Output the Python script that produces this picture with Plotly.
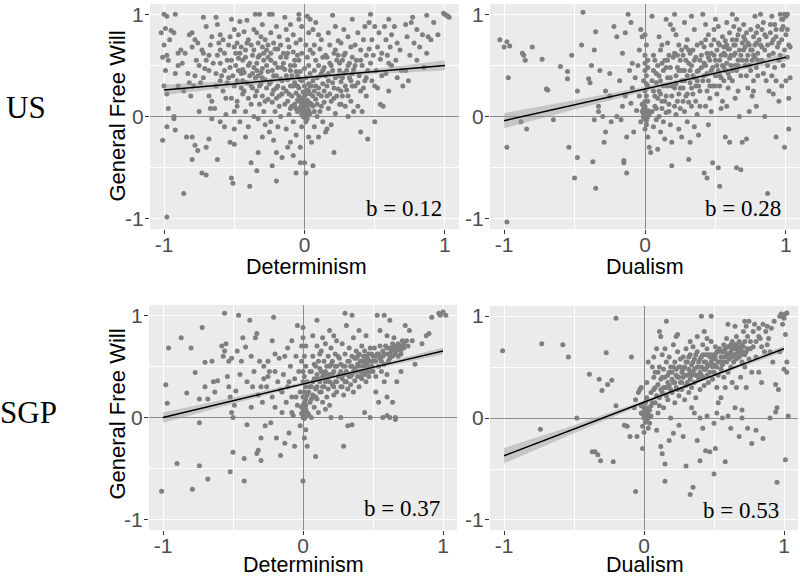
import plotly.graph_objects as go

# ---------------- data ----------------
us_det = [(-1.0,1.0),(-0.98,0.98),(-1.02,0.82),(-0.99,0.86),(-1.0,0.7),(-1.01,0.58),(-0.98,0.6),(-0.99,0.45),(-1.0,0.3),(-0.98,0.22),(-0.97,0.08),(-0.98,-0.1),(-1.01,-0.23),(-0.98,-0.98),(-0.96,0.75),(-0.97,0.55),
(-0.92,1.0),(-0.95,0.84),(-0.93,0.82),(-0.9,0.62),(-0.88,0.65),(-0.92,0.42),(-0.9,0.3),(-0.93,0.0),(-0.93,-0.02),(-0.92,-0.13),(-0.86,-0.75),(-0.87,0.52),(-0.86,0.25),
(-0.83,0.42),(-0.82,0.8),(-0.8,0.82),(-0.78,0.75),(-0.8,0.68),(-0.76,0.72),(-0.81,0.2),(-0.79,0.3),(-0.84,-0.2),(-0.8,-0.2),(-0.78,-0.28),(-0.76,-0.33),(-0.8,-0.42),(-0.77,0.55),(-0.75,0.05),(-0.82,0.33),
(-0.72,0.97),(-0.7,0.88),(-0.73,0.65),(-0.68,0.6),(-0.7,0.55),(-0.71,0.47),(-0.72,0.38),(-0.68,0.2),(-0.66,0.15),(-0.7,-0.3),(-0.68,-0.22),(-0.73,-0.55),(-0.7,-0.57),(-0.66,-0.02),(-0.67,0.08),(-0.74,0.33),(-0.66,0.78),(-0.67,0.7),
(-0.63,0.97),(-0.62,0.9),(-0.6,0.8),(-0.58,0.75),(-0.62,0.6),(-0.6,0.52),(-0.57,0.45),(-0.63,0.42),(-0.6,0.35),(-0.58,0.25),(-0.56,0.18),(-0.64,0.08),(-0.6,-0.05),(-0.57,-0.1),(-0.62,-0.42),(-0.6,0.65),(-0.55,0.55),(-0.56,0.02),
(-0.52,0.95),(-0.5,0.85),(-0.53,0.78),(-0.48,0.72),(-0.5,0.68),(-0.46,0.62),(-0.52,0.55),(-0.49,0.5),(-0.47,0.45),(-0.54,0.38),(-0.5,0.3),(-0.45,0.28),(-0.52,0.18),(-0.48,0.1),(-0.5,0.05),(-0.46,-0.05),(-0.5,-0.12),(-0.53,-0.25),(-0.5,-0.27),(-0.52,-0.6),(-0.51,-0.65),(-0.47,0.8),(-0.45,0.42),(-0.48,0.15),
(-0.46,0.93),(-0.41,0.94),(-0.43,0.83),(-0.4,0.75),(-0.38,0.7),(-0.42,0.65),(-0.37,0.6),(-0.44,0.55),(-0.4,0.5),(-0.36,0.48),(-0.43,0.43),(-0.39,0.4),(-0.41,0.33),(-0.37,0.28),(-0.44,0.22),(-0.4,0.18),(-0.38,0.12),(-0.42,0.05),(-0.36,0.0),(-0.4,-0.1),(-0.42,-0.2),(-0.38,-0.45),(-0.39,-0.68),(-0.36,0.85),(-0.44,0.35),(-0.35,0.38),
(-0.35,1.0),(-0.32,1.0),(-0.3,0.9),(-0.34,0.82),(-0.28,0.75),(-0.33,0.72),(-0.3,0.68),(-0.27,0.65),(-0.32,0.6),(-0.29,0.55),(-0.34,0.52),(-0.3,0.47),(-0.26,0.44),(-0.33,0.4),(-0.28,0.36),(-0.31,0.32),(-0.27,0.28),(-0.34,0.25),(-0.3,0.2),(-0.26,0.17),(-0.32,0.12),(-0.29,0.05),(-0.33,-0.02),(-0.28,-0.08),(-0.3,-0.2),(-0.33,-0.35),(-0.34,-0.53),(-0.25,-0.15),(-0.26,0.58),(-0.31,0.43),
(-0.25,1.0),(-0.23,1.0),(-0.2,0.88),(-0.24,0.82),(-0.18,0.78),(-0.22,0.72),(-0.19,0.66),(-0.24,0.62),(-0.17,0.58),(-0.21,0.52),(-0.16,0.48),(-0.23,0.45),(-0.2,0.4),(-0.17,0.37),(-0.24,0.34),(-0.19,0.3),(-0.22,0.26),(-0.16,0.22),(-0.2,0.18),(-0.23,0.14),(-0.18,0.1),(-0.21,0.05),(-0.17,0.0),(-0.24,-0.05),(-0.19,-0.1),(-0.22,-0.23),(-0.2,-0.35),(-0.16,-0.4),(-0.23,-0.48),(-0.2,-0.63),(-0.15,0.28),(-0.15,0.62),
(-0.14,0.97),(-0.1,0.9),(-0.13,0.85),(-0.08,0.8),(-0.12,0.75),(-0.06,0.72),(-0.11,0.68),(-0.08,0.63),(-0.13,0.58),(-0.07,0.55),(-0.1,0.5),(-0.14,0.46),(-0.06,0.44),(-0.09,0.4),(-0.12,0.36),(-0.07,0.33),(-0.1,0.3),(-0.13,0.25),(-0.06,0.23),(-0.09,0.2),(-0.12,0.15),(-0.07,0.12),(-0.1,0.08),(-0.05,0.05),(-0.11,0.02),(-0.08,-0.05),(-0.13,-0.12),(-0.06,-0.18),(-0.1,-0.25),(-0.12,-0.3),(-0.08,-0.38),(-0.06,-0.55),(-0.05,0.3),(-0.05,0.16),
(-0.04,1.0),(-0.04,0.95),(0.02,0.98),(0.04,0.95),(-0.02,0.88),(0.03,0.82),(-0.03,0.75),(0.01,0.7),(0.04,0.65),(-0.02,0.62),(0.02,0.58),(-0.04,0.55),(0.03,0.5),(0.0,0.47),(-0.03,0.44),(0.04,0.42),(0.01,0.38),(-0.02,0.35),(0.03,0.32),(0.0,0.3),(-0.04,0.28),(0.02,0.26),(-0.01,0.24),(0.04,0.22),(0.0,0.2),(-0.03,0.18),(0.02,0.16),(0.01,0.14),(-0.02,0.12),(0.03,0.11),(0.0,0.1),(-0.01,0.08),(0.02,0.07),(0.0,0.06),(0.01,0.05),(-0.01,0.04),(0.0,0.03),(0.02,0.02),(0.0,0.01),(-0.01,0.0),(0.01,0.0),(0.0,-0.01),(0.02,-0.02),(-0.02,0.02),(0.03,0.06),(-0.03,0.09),(0.04,0.13),(-0.04,0.15),(0.01,-0.05),(-0.02,-0.1),(0.03,-0.2),(-0.03,-0.3),(0.0,-0.45),(-0.03,-0.45),(0.01,-0.55),(0.05,-0.25),(0.05,0.3),(-0.05,0.4),
(0.08,0.92),(0.06,0.85),(0.1,0.8),(0.12,0.75),(0.07,0.7),(0.11,0.66),(0.06,0.62),(0.13,0.58),(0.08,0.55),(0.1,0.5),(0.14,0.48),(0.07,0.45),(0.12,0.42),(0.09,0.38),(0.06,0.35),(0.13,0.32),(0.1,0.28),(0.07,0.25),(0.12,0.2),(0.08,0.17),(0.14,0.14),(0.06,0.1),(0.11,0.05),(0.09,0.0),(0.13,-0.05),(0.07,-0.1),(0.1,-0.2),(0.06,-0.48),(0.15,-0.15),(0.15,0.4),
(0.2,0.99),(0.22,0.88),(0.17,0.82),(0.24,0.74),(0.18,0.7),(0.21,0.62),(0.16,0.58),(0.23,0.55),(0.19,0.5),(0.25,0.45),(0.17,0.42),(0.22,0.38),(0.2,0.33),(0.16,0.3),(0.24,0.27),(0.18,0.22),(0.21,0.18),(0.25,0.12),(0.17,0.08),(0.22,0.03),(0.19,-0.08),(0.21,-0.35),(0.16,-0.12),(0.24,0.6),
(0.28,0.85),(0.31,0.78),(0.26,0.72),(0.33,0.68),(0.29,0.62),(0.34,0.58),(0.27,0.55),(0.31,0.5),(0.35,0.46),(0.28,0.42),(0.32,0.38),(0.26,0.34),(0.34,0.3),(0.3,0.26),(0.27,0.2),(0.33,0.15),(0.29,0.1),(0.35,0.05),(0.31,0.0),(0.34,0.95),(0.26,0.12),
(0.38,0.82),(0.42,0.75),(0.36,0.7),(0.4,0.65),(0.44,0.6),(0.37,0.55),(0.41,0.5),(0.45,0.45),(0.39,0.4),(0.43,0.35),(0.36,0.3),(0.4,0.25),(0.44,0.2),(0.38,0.1),(0.41,0.05),(0.45,-0.22),(0.4,-0.15),(0.43,0.88),
(0.47,1.0),(0.46,0.92),(0.5,0.88),(0.53,0.82),(0.48,0.75),(0.52,0.68),(0.49,0.6),(0.54,0.56),(0.47,0.52),(0.51,0.45),(0.55,0.4),(0.48,0.35),(0.52,0.28),(0.5,-0.05),(0.54,0.12),
(0.6,0.95),(0.57,0.88),(0.64,0.88),(0.62,0.8),(0.58,0.75),(0.66,0.72),(0.61,0.68),(0.68,0.65),(0.59,0.6),(0.65,0.55),(0.62,0.5),(0.69,0.45),(0.58,0.42),(0.66,0.38),(0.7,0.3),(0.6,0.25),(0.56,0.1),
(0.72,0.9),(0.76,0.92),(0.77,0.97),(0.8,0.85),(0.84,0.8),(0.73,0.78),(0.78,0.72),(0.82,0.68),(0.87,0.62),(0.75,0.6),(0.8,0.55),(0.85,0.48),(0.72,0.45),(0.88,0.78),(0.9,0.75),(0.74,0.35),(0.87,0.99),
(1.0,1.0),(1.01,0.99),(1.02,0.98),(0.99,1.01),(1.03,0.97),(0.95,0.8),(0.92,0.92),
(-0.68,0.45),(-0.65,0.52),(-0.63,0.3),(-0.61,0.72),(-0.59,0.4),(-0.57,0.62),(-0.55,0.33),(-0.54,0.7),(-0.53,0.48),(-0.51,0.4),(-0.49,0.62),(-0.48,0.35),(-0.47,0.57),(-0.45,0.68),(-0.44,0.46),(-0.43,0.25),(-0.42,0.58),(-0.41,0.72),(-0.39,0.52),(-0.38,0.3),(-0.37,0.42),(-0.36,0.65),(-0.35,0.2),(-0.34,0.45),(-0.33,0.58),(-0.32,0.3),(-0.31,0.78),(-0.3,0.38),(-0.29,0.62),(-0.28,0.15),(-0.27,0.5),(-0.26,0.7),(-0.25,0.32),(-0.24,0.55),(-0.23,0.22),(-0.22,0.4),(-0.21,0.66),(-0.2,0.28),(-0.19,0.48),(-0.18,0.2),(-0.17,0.7),(-0.16,0.35),(-0.15,0.52),(-0.14,0.12),(-0.13,0.4),(-0.12,0.62),(-0.11,0.22),(-0.1,0.45),(-0.09,0.1),(-0.08,0.3),(-0.07,0.5),(-0.06,0.08),(-0.05,0.6),(-0.04,0.2),(-0.03,0.36),(-0.02,0.06),(-0.01,0.16),(0.0,0.08),(0.01,0.22),(0.02,0.04),(0.03,0.14),(0.04,0.03),(0.0,0.15),(-0.01,0.12),(0.01,0.1),(0.02,0.12),(0.03,0.25),(0.04,0.3),(0.05,0.12),(0.06,0.2),(0.07,0.05),(0.08,0.3),(0.09,0.12),(0.1,0.22),(0.11,0.4),(0.12,0.1),(0.13,0.45),(0.14,0.25),(0.15,0.6),(0.16,0.2),(0.17,0.35),(0.18,0.52),(0.19,0.15),(0.2,0.45),(0.21,0.28),(0.22,0.65),(0.23,0.2),(0.24,0.4),(0.25,0.52),(0.26,0.25),(0.27,0.38),(0.28,0.6),(0.29,0.3),(0.3,0.45),(0.31,0.2),(0.32,0.52),(0.33,0.35),(0.34,0.42),(0.36,0.5),(0.38,0.33),(0.4,0.55),(0.42,0.28),(0.44,0.38),(0.46,0.66),(0.5,0.3),(0.55,0.62),(0.6,0.52),(-0.75,0.5),(-0.72,0.62),(-0.78,0.4),(-0.85,0.62),(-0.9,0.5)]

us_dual = [(-1.03,0.75),(-0.98,0.73),(-1.0,0.68),(-0.96,0.69),(-0.97,0.38),(-0.98,-0.3),(-0.98,-1.03),(-0.87,0.62),(-0.86,0.6),(-0.85,0.55),(-0.88,-0.05),(-0.84,-0.12),(-0.8,0.68),(-0.73,0.56),(-0.7,0.27),(-0.69,0.26),(-0.65,-0.03),(-0.6,0.49),(-0.55,0.44),(-0.55,0.37),(-0.54,-0.3),(-0.52,0.6),(-0.5,-0.6),(-0.48,0.25),(-0.48,-0.4),(-0.45,0.7),(-0.44,1.02),(-0.4,0.37),(-0.39,0.33),(-0.38,0.5),(-0.36,0.65),(-0.36,-0.03),(-0.37,-0.44),(-0.35,0.83),(-0.35,-0.7),(-0.33,0.1),(-0.33,0.05),(-0.32,0.45),(-0.3,0.0),(-0.29,-0.25),(-0.28,-0.15),(-0.28,0.25),(-0.25,0.2),(-0.25,0.42),(-0.24,-0.05),(-0.22,0.88),(-0.2,0.78),(-0.2,0.0),(-0.18,0.35),(-0.17,-0.03),(-0.16,0.1),(-0.16,0.62),(-0.15,-0.43),(-0.15,-0.45),(-0.14,0.82),(-0.14,0.2),(-0.13,-0.2),(-0.13,-0.55),(-0.12,1.0),(-0.11,0.45),(-0.1,0.92),(-0.09,0.52),(-0.1,0.13),(-0.09,0.28),(-0.08,-0.15),(-0.07,0.38),(-0.06,0.06),(-0.05,0.5),(-0.04,0.65),(-0.04,0.2),(-0.03,0.85),(-0.03,-0.05),(-0.02,0.12),(-0.02,0.78),
(0.0,0.0),(0.01,0.01),(-0.01,0.02),(0.02,0.0),(0.0,-0.02),(0.01,0.04),(-0.01,-0.01),(0.02,0.03),(0.0,0.06),(0.01,-0.04),(0.03,0.02),(-0.02,0.05),(0.0,0.1),(0.02,0.15),(0.01,0.2),(0.0,0.25),(0.02,0.3),(-0.01,0.35),(0.01,0.4),(0.0,0.45),(0.02,0.55),(0.0,0.6),(0.01,0.7),(0.0,0.8),(0.01,-0.08),(0.0,-0.12),(0.02,-0.2),(0.03,-0.3),(0.04,-0.35),
(0.05,0.98),(0.07,0.55),(0.06,0.45),(0.08,0.33),(0.06,0.25),(0.09,0.18),(0.07,0.1),(0.05,0.05),(0.08,-0.03),(0.06,-0.1),(0.09,-0.32),(0.1,0.78),(0.11,0.65),(0.12,0.52),(0.1,0.4),(0.13,0.3),(0.11,0.22),(0.14,0.15),(0.12,0.08),(0.1,0.0),(0.13,-0.05),(0.11,-0.15),(0.14,-0.22),(0.15,0.95),(0.16,0.72),(0.17,0.6),(0.15,0.48),(0.18,0.38),(0.16,0.3),(0.19,0.2),(0.17,0.12),(0.15,0.04),(0.18,-0.08),(0.19,-0.25),(0.2,0.85),(0.18,0.9),(0.19,-0.48),(0.16,0.55),(0.12,0.7),(0.08,0.42),
(0.21,1.0),(0.22,0.8),(0.24,0.7),(0.21,0.62),(0.25,0.55),(0.23,0.48),(0.22,0.4),(0.26,0.35),(0.21,0.28),(0.24,0.22),(0.23,0.15),(0.25,0.08),(0.22,0.02),(0.24,-0.12),(0.26,-0.2),(0.28,0.92),(0.3,0.75),(0.29,0.68),(0.27,0.6),(0.31,0.52),(0.28,0.45),(0.3,0.4),(0.32,0.33),(0.27,0.28),(0.29,0.2),(0.31,0.14),(0.28,0.05),(0.3,-0.05),(0.32,-0.25),(0.31,-0.42),(0.33,0.98),(0.35,0.85),(0.34,0.65),(0.36,0.58),(0.33,0.5),(0.37,0.44),(0.35,0.38),(0.38,0.3),(0.34,0.22),(0.36,0.15),(0.39,0.1),(0.37,0.02),(0.35,-0.1),(0.38,-0.18),(0.4,0.72),(0.39,0.55),(0.4,0.48),(0.32,0.62),(0.26,0.45),(0.37,0.35),(0.33,0.28),
(0.41,1.0),(0.43,0.9),(0.45,0.8),(0.42,0.68),(0.44,0.62),(0.46,0.55),(0.43,0.5),(0.47,0.45),(0.42,0.4),(0.45,0.35),(0.48,0.3),(0.44,0.25),(0.46,0.18),(0.43,0.1),(0.47,0.05),(0.45,-0.08),(0.42,-0.55),(0.44,-0.6),(0.48,-0.45),(0.5,0.95),(0.52,0.88),(0.49,0.75),(0.53,0.7),(0.51,0.65),(0.54,0.6),(0.5,0.55),(0.55,0.5),(0.52,0.45),(0.5,0.4),(0.56,0.35),(0.53,0.3),(0.51,0.22),(0.55,0.15),(0.54,0.08),(0.57,-0.2),(0.52,-0.5),(0.53,-0.68),(0.58,0.92),(0.6,0.82),(0.57,0.74),(0.59,0.66),(0.56,0.62),(0.6,0.57),(0.58,0.52),(0.57,0.45),(0.6,0.38),(0.59,0.28),(0.58,0.1),(0.6,-0.25),(0.49,0.6),(0.47,0.7),(0.53,0.4),(0.56,0.68),
(0.62,1.0),(0.65,0.95),(0.63,0.88),(0.66,0.8),(0.62,0.75),(0.64,0.7),(0.67,0.65),(0.63,0.6),(0.66,0.55),(0.61,0.5),(0.65,0.45),(0.68,0.4),(0.62,0.35),(0.66,0.25),(0.64,0.18),(0.67,0.0),(0.65,-0.5),(0.68,-0.52),(0.69,-0.25),(0.7,0.9),(0.72,0.82),(0.71,0.75),(0.74,0.7),(0.7,0.65),(0.73,0.6),(0.76,0.55),(0.71,0.5),(0.75,0.45),(0.72,0.4),(0.77,0.35),(0.73,0.28),(0.76,0.2),(0.74,0.05),(0.72,-0.22),(0.78,0.98),(0.8,0.88),(0.77,0.78),(0.79,0.72),(0.8,0.62),(0.78,0.58),(0.79,0.48),(0.8,0.4),(0.77,0.25),(0.79,0.1),(0.69,0.72),(0.64,0.5),(0.75,0.65),
(0.82,1.0),(0.84,0.92),(0.83,0.85),(0.86,0.78),(0.82,0.7),(0.85,0.65),(0.88,0.6),(0.83,0.55),(0.87,0.5),(0.84,0.42),(0.86,0.35),(0.88,0.25),(0.85,0.0),(0.87,-0.75),(0.9,0.98),(0.92,0.9),(0.89,0.82),(0.93,0.78),(0.9,0.72),(0.94,0.68),(0.91,0.62),(0.95,0.55),(0.92,0.48),(0.9,0.4),(0.93,0.35),(0.91,0.22),(0.95,0.15),(0.93,-0.2),(0.96,1.0),(0.97,0.95),(0.99,1.0),(1.0,0.98),(1.01,1.0),(0.98,0.88),(1.0,0.8),(0.97,0.75),(1.02,0.7),(0.99,0.65),(1.01,0.58),(0.98,0.5),(1.0,0.35),(1.03,0.38),(1.02,0.18),(0.99,-0.3),(1.02,-0.12),(0.96,0.6),(0.97,0.3),(1.03,0.68),(1.01,0.85),
(0.05,0.35),(0.06,0.6),(0.07,0.2),(0.08,0.08),(0.09,0.5),(0.1,0.25),(0.11,0.35),(0.12,0.15),(0.13,0.45),(0.14,0.55),(0.15,0.2),(0.16,0.38),(0.17,0.05),(0.18,0.48),(0.19,0.3),(0.2,0.58),(0.21,0.1),(0.22,0.32),(0.23,0.6),(0.24,0.45),(0.25,0.28),(0.26,0.65),(0.27,0.15),(0.28,0.35),(0.29,0.55),(0.3,0.22),(0.31,0.65),(0.32,0.45),(0.33,0.1),(0.34,0.4),(0.35,0.55),(0.36,0.3),(0.37,0.7),(0.38,0.45),(0.39,0.25),(0.4,0.6),(0.41,0.35),(0.42,0.52),(0.43,0.75),(0.44,0.42),(0.45,0.58),(0.46,0.3),(0.47,0.62),(0.48,0.48),(0.49,0.85),(0.5,0.3),(0.51,0.5),(0.52,0.72),(0.53,0.55),(0.54,0.38),(0.55,0.78),(0.56,0.48),(0.57,0.6),(0.58,0.7),(0.59,0.42),(0.6,0.66),(0.61,0.6),(0.62,0.45),(0.63,0.7),(0.64,0.62),(0.65,0.75),(0.66,0.5),(0.67,0.85),(0.68,0.6),(0.69,0.55),(0.7,0.78),(0.71,0.68),(0.72,0.55),(0.73,0.72),(0.74,0.5),(0.75,0.85),(0.76,0.65),(0.77,0.6),(0.78,0.7),(0.79,0.82),(0.8,0.55),(0.81,0.75),(0.83,0.68),(0.85,0.8),(0.87,0.7),(0.89,0.9),(0.91,0.75),(0.93,0.85),(0.95,0.72),(0.97,0.85),(0.98,0.95),(0.0,0.03),(0.01,-0.02),(0.02,0.06),(-0.01,0.08),(0.0,0.15),(0.01,0.32),(0.02,0.48),(0.0,0.52)]

sgp_det = [(-1.01,-0.72),(-0.98,0.32),(-0.97,0.14),(-0.96,0.68),(-0.9,-0.45),(-0.87,0.78),(-0.83,0.24),(-0.8,0.68),(-0.79,-0.7),(-0.77,0.44),(-0.74,0.18),(-0.74,-0.47),(-0.74,-0.05),(-0.72,0.88),(-0.7,0.3),(-0.7,0.54),(-0.68,-0.6),(-0.68,0.18),(-0.65,0.55),(-0.64,0.35),(-0.63,0.25),(-0.61,0.36),(-0.58,0.7),(-0.57,0.6),(-0.55,0.72),(-0.56,0.65),(-0.54,0.4),(-0.53,0.3),(-0.52,0.2),(-0.51,0.05),(-0.5,0.0),(-0.56,1.02),(-0.53,0.55),(-0.51,0.58),(-0.52,-0.53),(-0.5,-0.34),(-0.49,0.12),(-0.48,0.26),(-0.47,0.65),(-0.45,0.42),(-0.46,1.0),(-0.44,0.55),(-0.43,0.78),(-0.42,-0.62),(-0.42,-0.4),(-0.41,0.69),(-0.4,0.35),(-0.4,-0.07),(-0.38,0.95),(-0.37,0.1),(-0.37,0.6),(-0.36,0.3),(-0.35,0.45),(-0.34,0.78),(-0.33,0.82),(-0.33,-0.35),(-0.32,-0.32),(-0.32,0.22),(-0.31,0.55),(-0.3,-0.2),(-0.3,-0.42),(-0.29,0.15),(-0.28,0.5),(-0.28,0.38),(-0.27,-0.08),(-0.26,0.3),(-0.25,0.55),(-0.24,0.45),(-0.23,-0.05),(-0.22,0.75),(-0.22,0.2),(-0.21,0.98),(-0.2,0.62),(-0.2,0.1),(-0.19,-0.2),(-0.18,0.35),(-0.17,0.58),(-0.16,-0.37),(-0.16,0.27),(-0.15,0.05),(-0.14,0.42),(-0.13,0.6),(-0.13,-0.25),(-0.12,0.15),(-0.11,0.68),(-0.11,0.3),(-0.1,-0.15),(-0.09,0.5),(-0.08,0.75),(-0.08,0.2),(-0.07,0.02),(-0.06,0.38),(-0.06,-0.28),(-0.05,0.6),(-0.04,0.9),(-0.04,0.12),(-0.03,0.45),(-0.02,0.25),(-0.02,-0.08),(-0.01,0.7),(-0.01,0.55),
(0.0,0.0),(0.01,0.02),(-0.01,0.04),(0.02,0.01),(0.0,0.06),(0.01,-0.01),(0.02,0.08),(-0.01,0.1),(0.0,0.12),(0.01,0.15),(0.02,0.18),(0.0,0.2),(0.01,0.25),(0.02,0.3),(0.0,0.35),(0.01,0.4),(0.02,0.5),(0.0,0.88),(0.0,-0.62),(0.02,-0.12),(0.03,-0.28),(0.01,-0.2),(0.03,0.05),(0.04,0.03),(0.03,0.22),
(0.05,0.3),(0.06,0.45),(0.05,0.15),(0.07,0.6),(0.06,0.0),(0.08,0.38),(0.07,0.22),(0.09,0.5),(0.08,0.1),(0.1,0.7),(0.09,0.28),(0.1,0.42),(0.11,0.55),(0.1,0.18),(0.12,0.35),(0.11,0.05),(0.13,0.65),(0.12,0.48),(0.13,0.25),(0.14,0.4),(0.14,0.15),(0.15,0.55),(0.15,0.3),(0.16,0.72),(0.16,0.45),(0.17,0.2),(0.17,0.38),(0.18,0.6),(0.18,0.28),(0.19,0.5),(0.19,0.12),(0.2,0.42),(0.2,0.68),(0.21,0.32),(0.21,0.55),(0.22,0.22),(0.22,0.45),(0.23,0.35),(0.23,0.62),(0.24,0.5),(0.24,0.25),(0.25,0.4),(0.09,-0.38),(0.1,0.95),(0.14,0.78),(0.19,0.85),(0.22,0.8),(0.24,0.75),(0.07,0.8),(0.12,0.62),(0.16,0.08),(0.2,0.0),(0.06,0.3),
(0.26,0.58),(0.27,0.3),(0.27,0.45),(0.28,0.72),(0.28,0.38),(0.29,0.5),(0.29,0.22),(0.3,0.62),(0.3,0.35),(0.31,0.45),(0.31,0.9),(0.32,0.28),(0.32,0.55),(0.33,0.4),(0.33,0.68),(0.34,0.5),(0.34,0.32),(0.35,0.6),(0.35,0.42),(0.36,0.25),(0.36,0.78),(0.37,0.48),(0.37,0.36),(0.38,0.58),(0.38,0.65),(0.39,0.4),(0.39,0.52),(0.4,0.3),(0.4,0.62),(0.41,0.45),(0.41,0.55),(0.42,0.38),(0.42,0.7),(0.43,0.5),(0.43,0.6),(0.44,0.42),(0.44,0.65),(0.45,0.35),(0.45,0.52),(0.46,0.58),(0.46,0.45),(0.47,0.62),(0.47,0.4),(0.48,0.55),(0.48,0.68),(0.49,0.5),(0.5,0.6),(0.5,0.45),(0.29,-0.28),(0.32,-0.08),(0.35,-0.07),(0.3,1.02),(0.35,1.0),(0.4,0.85),(0.45,0.8),(0.48,0.0),(0.27,0.0),(0.44,0.05),
(0.51,0.68),(0.52,0.55),(0.52,0.4),(0.53,0.62),(0.54,0.5),(0.55,0.7),(0.55,0.58),(0.56,0.45),(0.57,0.65),(0.57,0.6),(0.58,0.52),(0.59,0.7),(0.6,0.62),(0.6,0.42),(0.61,0.55),(0.62,0.68),(0.62,0.58),(0.63,0.65),(0.64,0.6),(0.64,0.72),(0.65,0.68),(0.66,0.62),(0.66,0.7),(0.67,0.66),(0.68,0.72),(0.68,0.6),(0.69,0.68),(0.7,0.7),(0.7,0.62),(0.71,0.75),(0.72,0.68),(0.74,0.75),(0.75,0.7),(0.73,0.9),(0.76,0.85),(0.6,0.2),(0.58,0.35),(0.57,0.0),(0.6,0.02),(0.62,0.0),(0.66,0.0),(0.53,1.0),(0.58,1.0),(0.62,0.95),(0.55,0.85),(0.6,0.8),(0.65,0.78),(0.52,0.25),(0.54,0.15),(0.64,0.15),(0.67,0.35),(0.7,0.45),(0.78,0.75),(0.8,0.52),(0.66,-0.02),
(0.97,1.02),(1.0,1.03),(1.02,1.0),(0.98,1.0),(0.92,0.98),(0.9,0.82),(0.85,0.72),(0.88,0.8),
(0.02,0.12),(0.03,0.35),(0.04,0.25),(0.05,0.45),(0.06,0.18),(0.07,0.35),(0.08,0.52),(0.09,0.2),(0.1,0.3),(0.11,0.38),(0.12,0.25),(0.13,0.45),(0.14,0.3),(0.15,0.42),(0.16,0.35),(0.17,0.5),(0.18,0.42),(0.19,0.35),(0.2,0.52),(0.21,0.42),(0.22,0.3),(0.23,0.5),(0.24,0.35),(0.25,0.6),(0.26,0.42),(0.27,0.52),(0.28,0.3),(0.29,0.42),(0.3,0.5),(0.31,0.35),(0.32,0.42),(0.33,0.55),(0.34,0.4),(0.35,0.5),(0.36,0.45),(0.37,0.58),(0.38,0.45),(0.39,0.6),(0.4,0.5),(0.41,0.4),(0.42,0.55),(0.43,0.45),(0.44,0.55),(0.45,0.6),(0.46,0.5),(0.47,0.55),(0.48,0.45),(0.49,0.62),(0.5,0.55),(0.52,0.6),(0.54,0.62),(0.56,0.55),(0.58,0.62),(0.6,0.68),(0.62,0.62),(0.64,0.66),(0.66,0.66),(0.68,0.66),(0.7,0.66),(0.72,0.72),(-0.1,0.35),(-0.15,0.25),(-0.2,0.45),(-0.25,0.4),(-0.3,0.3),(-0.08,0.05),(-0.05,0.2),(0.0,0.45),(0.01,0.6),(0.02,0.7),(0.0,0.78)]

sgp_dual = [(-1.01,0.66),(-0.73,0.73),(-0.74,-0.11),(-0.58,0.72),(-0.54,0.6),(-0.48,0.0),(-0.39,0.43),(-0.37,-0.33),(-0.35,-0.33),(-0.33,-0.36),(-0.32,0.38),(-0.3,0.27),(-0.31,-0.42),(-0.27,0.64),(-0.26,0.33),(-0.23,0.37),(-0.22,-0.43),(-0.2,0.98),(-0.2,0.12),(-0.14,-0.07),(-0.12,-0.08),(-0.09,0.6),(-0.1,-0.18),(-0.07,0.1),(-0.06,0.18),(-0.05,-0.18),(-0.04,0.25),(-0.06,-0.72),(-0.03,0.28),(-0.02,0.3),(-0.02,0.12),(-0.01,-0.3),(-0.02,0.05),
(0.0,0.0),(0.01,0.02),(-0.01,0.04),(0.02,-0.02),(0.0,0.06),(0.01,-0.04),(0.02,0.05),(0.03,0.0),(0.0,0.1),(0.01,0.15),(0.02,0.2),(-0.01,-0.08),(0.03,-0.1),(0.0,-0.14),(0.02,0.35),(0.03,0.55),(0.04,0.08),(0.04,-0.05),(0.05,0.02),(0.05,0.12),(0.06,0.5),
(0.07,0.28),(0.08,0.45),(0.08,0.15),(0.09,-0.12),(0.1,0.33),(0.1,0.05),(0.11,0.5),(0.11,0.2),(0.12,0.38),(0.12,-0.28),(0.13,0.62),(0.13,0.25),(0.14,0.48),(0.14,0.1),(0.15,0.4),(0.15,0.68),(0.15,-0.45),(0.16,0.3),(0.16,0.55),(0.17,0.18),(0.17,0.42),(0.18,0.6),(0.18,0.32),(0.19,0.5),(0.19,0.0),(0.2,0.25),(0.2,0.45),(0.21,0.72),(0.21,0.35),(0.22,0.15),(0.22,0.55),(0.23,0.3),(0.23,0.48),(0.24,0.4),(0.24,0.65),(0.25,0.22),(0.25,0.5),(0.26,0.35),(0.26,0.58),(0.27,0.28),(0.27,0.45),(0.28,0.6),(0.28,0.4),(0.29,0.18),(0.29,0.5),(0.3,0.32),(0.3,0.68),(0.11,0.85),(0.12,0.8),(0.16,0.95),(0.23,0.8),(0.24,0.82),(0.15,-0.62),(0.13,-0.35),(0.18,-0.22),(0.21,-0.15),(0.25,-0.07),(0.28,-0.18),(0.3,-0.47),(0.09,0.68),(0.07,0.6),
(0.31,0.42),(0.31,0.55),(0.32,0.25),(0.32,0.48),(0.33,0.38),(0.33,0.62),(0.34,0.3),(0.34,0.52),(0.35,0.45),(0.35,0.7),(0.36,0.35),(0.36,0.58),(0.37,0.42),(0.37,0.2),(0.38,0.5),(0.38,0.65),(0.39,0.38),(0.39,0.55),(0.4,0.45),(0.4,0.28),(0.41,0.6),(0.41,0.5),(0.42,0.4),(0.42,0.72),(0.43,0.55),(0.43,0.32),(0.44,0.48),(0.44,0.62),(0.45,0.42),(0.45,0.68),(0.46,0.52),(0.46,0.35),(0.47,0.6),(0.47,0.45),(0.48,0.55),(0.48,0.75),(0.49,0.5),(0.49,0.38),(0.5,0.62),(0.5,0.45),(0.51,0.58),(0.51,0.7),(0.52,0.5),(0.52,0.3),(0.53,0.65),(0.53,0.42),(0.54,0.55),(0.55,0.6),(0.55,0.48),(0.34,0.1),(0.36,0.05),(0.4,0.0),(0.42,-0.1),(0.45,0.02),(0.5,-0.05),(0.52,0.05),(0.38,-0.22),(0.4,-0.42),(0.44,-0.32),(0.47,-0.33),(0.5,-0.55),(0.51,-0.3),(0.33,-0.75),(0.35,-0.68),(0.41,1.0),(0.48,1.0),(0.43,0.85),(0.45,0.78),(0.38,0.8),(0.33,0.75),(0.55,0.2),(0.53,0.15),
(0.56,0.65),(0.56,0.52),(0.57,0.72),(0.57,0.4),(0.58,0.6),(0.58,0.68),(0.59,0.55),(0.59,0.78),(0.6,0.62),(0.6,0.45),(0.61,0.7),(0.61,0.58),(0.62,0.65),(0.62,0.5),(0.63,0.75),(0.63,0.6),(0.64,0.68),(0.64,0.55),(0.65,0.72),(0.65,0.62),(0.66,0.8),(0.66,0.58),(0.67,0.7),(0.67,0.65),(0.68,0.75),(0.68,0.6),(0.69,0.68),(0.7,0.72),(0.7,0.55),(0.71,0.85),(0.72,0.62),(0.72,0.5),(0.73,0.9),(0.74,0.68),(0.75,0.58),(0.76,0.75),(0.77,0.45),(0.78,0.85),(0.79,0.92),(0.8,0.6),(0.56,0.0),(0.58,-0.43),(0.6,0.02),(0.62,-0.1),(0.65,0.1),(0.68,-0.18),(0.7,0.0),(0.7,0.08),(0.66,0.3),(0.74,-0.1),(0.77,-0.25),(0.75,0.95),(0.72,0.95),(0.6,0.92),(0.65,0.9),(0.58,0.3),(0.63,0.35),(0.69,0.4),(0.73,0.3),
(0.82,0.88),(0.83,0.78),(0.84,0.7),(0.85,0.92),(0.86,0.65),(0.87,0.85),(0.88,0.9),(0.88,0.72),(0.89,0.78),(0.9,0.65),(0.91,0.88),(0.92,0.55),(0.93,0.95),(0.94,0.33),(0.94,0.06),(0.95,0.1),(0.95,-0.63),(0.96,0.28),(0.97,1.0),(0.98,1.02),(0.99,1.0),(1.0,0.98),(1.01,1.02),(1.02,1.03),(0.99,0.92),(1.01,0.82),(1.02,0.55),(1.0,0.48),(1.02,0.45),(1.03,0.02),(1.01,-0.41),(0.97,0.65),(0.84,0.35),(0.9,0.0),(0.85,-0.2),(0.8,-0.12),(0.82,0.45),
(0.15,0.3),(0.16,0.22),(0.17,0.35),(0.18,0.45),(0.19,0.28),(0.2,0.38),(0.21,0.5),(0.22,0.35),(0.23,0.42),(0.24,0.28),(0.25,0.4),(0.26,0.5),(0.27,0.35),(0.28,0.48),(0.29,0.42),(0.3,0.55),(0.31,0.35),(0.32,0.6),(0.33,0.45),(0.34,0.42),(0.35,0.55),(0.36,0.48),(0.37,0.62),(0.38,0.42),(0.39,0.5),(0.4,0.58),(0.41,0.42),(0.42,0.62),(0.43,0.48),(0.44,0.55),(0.45,0.5),(0.46,0.62),(0.47,0.52),(0.48,0.62),(0.49,0.58),(0.5,0.52),(0.51,0.62),(0.52,0.65),(0.53,0.55),(0.54,0.68),(0.55,0.55),(0.56,0.6),(0.57,0.55),(0.58,0.65),(0.59,0.62),(0.6,0.7),(0.61,0.62),(0.62,0.72),(0.63,0.68),(0.64,0.62),(0.65,0.68),(0.66,0.72),(0.67,0.6),(0.68,0.68),(0.69,0.62),(0.7,0.65),(0.71,0.7),(0.72,0.75),(0.73,0.65),(0.74,0.8),(0.76,0.68),(0.78,0.7),(0.8,0.75),(0.82,0.8),(0.05,0.25),(0.06,0.15),(0.07,0.4),(0.08,0.3),(0.09,0.22),(0.1,0.45),(0.11,0.12),(0.12,0.28),(0.13,0.4),(0.14,0.3),(0.0,0.03),(0.01,0.07),(0.02,0.1),(0.03,0.04)]

# regression lines and confidence bands read at these x positions
fit_x = [-1.0, -0.5, 0.0, 0.5, 1.0]
us_det_fit = [0.26, 0.32, 0.38, 0.44, 0.50]
us_det_hw = [0.05, 0.03, 0.02, 0.025, 0.05]
us_dual_fit = [-0.04, 0.115, 0.27, 0.425, 0.58]
us_dual_hw = [0.075, 0.045, 0.025, 0.02, 0.04]
sgp_det_fit = [0.0, 0.165, 0.33, 0.49, 0.65]
sgp_det_hw = [0.05, 0.03, 0.018, 0.018, 0.035]
sgp_dual_fit = [-0.37, -0.11, 0.155, 0.42, 0.68]
sgp_dual_hw = [0.075, 0.04, 0.02, 0.015, 0.03]

b_labels = ["b = 0.12", "b = 0.28", "b = 0.37", "b = 0.53"]
x_titles = ["Determinism", "Dualism", "Determinism", "Dualism"]
y_title = "General Free Will"
row_labels = ["US", "SGP"]
tick_vals = [-1, 0, 1]
tick_text = ["-1", "0", "1"]

# ---------------- figure ----------------
panels = [
    (us_det, us_det_fit, us_det_hw),
    (us_dual, us_dual_fit, us_dual_hw),
    (sgp_det, sgp_det_fit, sgp_det_hw),
    (sgp_dual, sgp_dual_fit, sgp_dual_hw),
]
W, H = 800, 576
# panel pixel boxes: left, right, top, bottom
boxes = [(150, 459, 3, 229), (490, 800, 3, 229), (149, 457, 305, 531), (490, 798, 306, 531)]

fig = go.Figure()
for i, (pts, fit, hw) in enumerate(panels):
    sfx = "" if i == 0 else str(i + 1)
    xr, yr = "x" + sfx, "y" + sfx
    px = [p[0] for p in pts]
    py = [p[1] for p in pts]
    fig.add_trace(go.Scatter(x=px, y=py, mode="markers", xaxis=xr, yaxis=yr,
                             marker=dict(size=5, color="#7F7F7F"),
                             showlegend=False, hoverinfo="skip"))
    upper = [f + h for f, h in zip(fit, hw)]
    lower = [f - h for f, h in zip(fit, hw)]
    fig.add_trace(go.Scatter(x=fit_x + fit_x[::-1], y=upper + lower[::-1], xaxis=xr, yaxis=yr,
                             fill="toself", fillcolor="rgba(153,153,153,0.45)",
                             line=dict(width=0), mode="lines", showlegend=False, hoverinfo="skip"))
    fig.add_trace(go.Scatter(x=fit_x, y=fit, mode="lines", xaxis=xr, yaxis=yr,
                             line=dict(color="black", width=1.5), showlegend=False, hoverinfo="skip"))

axis_common = dict(range=[-1.1, 1.1], tickvals=tick_vals, ticktext=tick_text,
                   showgrid=True, gridcolor="white", gridwidth=1.3,
                   minor=dict(tickvals=[-0.5, 0.5], showgrid=True, gridcolor="white", gridwidth=0.6, ticks=""),
                   zeroline=True, zerolinecolor="#8C8C8C", zerolinewidth=1,
                   ticks="outside", ticklen=4, tickcolor="#333333", tickwidth=1,
                   tickfont=dict(family="Liberation Sans, Arial", size=21, color="#4D4D4D"),
                   showline=False, fixedrange=True)

layout = dict(width=W, height=H, margin=dict(l=0, r=0, t=0, b=0),
              paper_bgcolor="white", plot_bgcolor="#EBEBEB", showlegend=False)
for i, (l, r, t, b) in enumerate(boxes):
    sfx = "" if i == 0 else str(i + 1)
    layout["xaxis" + sfx] = dict(axis_common, domain=[l / W, r / W], anchor="y" + sfx,
                                 ticklabelstandoff=-7)
    layout["yaxis" + sfx] = dict(axis_common, domain=[1 - b / H, 1 - t / H], anchor="x" + sfx,
                                 ticklabelstandoff=-3)
fig.update_layout(**layout)

ann = []
# b labels
b_pos = [(0.99, -0.9), (0.98, -0.9), (0.99, -0.89), (0.98, -0.91)]
for i, (bx, by) in enumerate(b_pos):
    sfx = "" if i == 0 else str(i + 1)
    ann.append(dict(x=bx, y=by, xref="x" + sfx, yref="y" + sfx, text=b_labels[i],
                    showarrow=False, xanchor="right", yanchor="middle",
                    font=dict(family="Liberation Serif, Times New Roman", size=23, color="black")))
# x titles
xt_pos = [(306, 267), (645, 267), (303, 566), (645, 566)]
for i, (tx, ty) in enumerate(xt_pos):
    ann.append(dict(x=tx / W, y=1 - ty / H, xref="paper", yref="paper", text=x_titles[i],
                    showarrow=False, xanchor="center", yanchor="middle", height=18,
                    font=dict(family="Liberation Sans, Arial", size=21.5, color="black")))
# y titles
for ty in (116, 415):
    ann.append(dict(x=118 / W, y=1 - ty / H, xref="paper", yref="paper", text=y_title,
                    textangle=-90, showarrow=False, xanchor="center", yanchor="middle",
                    font=dict(family="Liberation Sans, Arial", size=22, color="black")))
# row labels
for lab, (rx, ry) in zip(row_labels, [(26, 107), (28, 413)]):
    ann.append(dict(x=rx / W, y=1 - ry / H, xref="paper", yref="paper", text=lab,
                    showarrow=False, xanchor="center", yanchor="middle",
                    font=dict(family="Liberation Serif, Times New Roman", size=31, color="black")))
fig.update_layout(annotations=ann)

fig.write_html("out.html", config={"displayModeBar": False},
               post_script="document.body.style.margin='0';document.body.style.overflow='hidden';")
